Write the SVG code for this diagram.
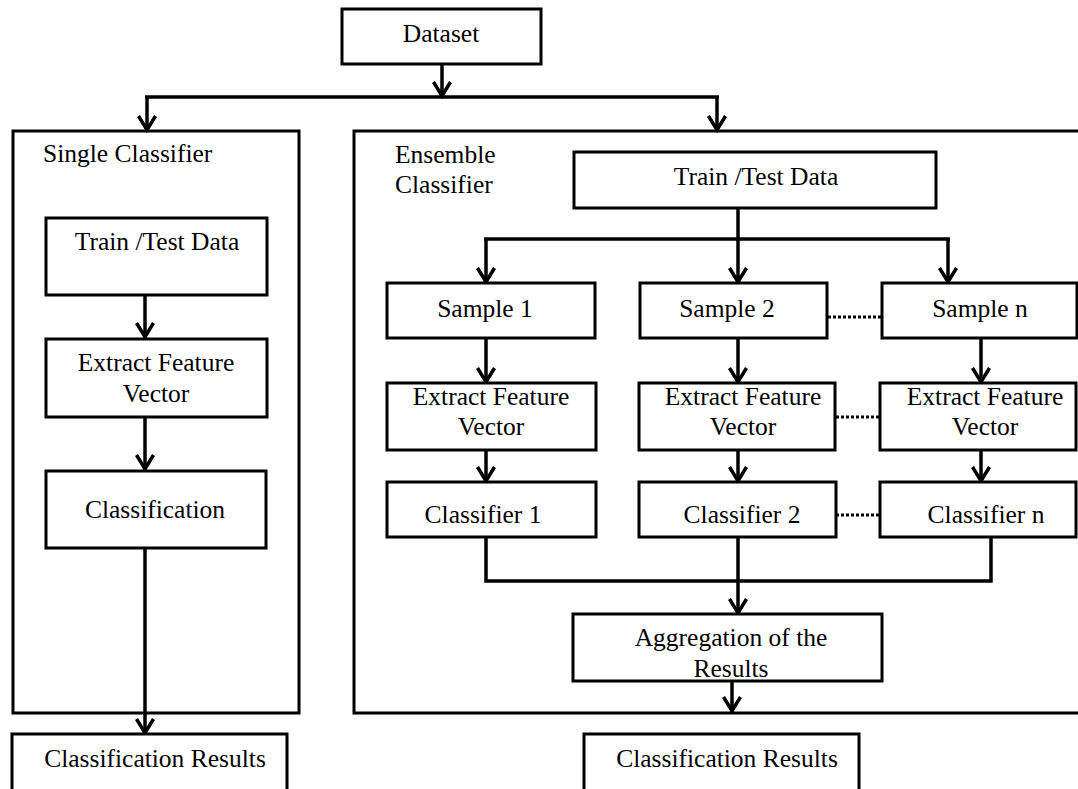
<svg xmlns="http://www.w3.org/2000/svg" width="1078" height="789" viewBox="0 0 1078 789">
  <style>
    .box { fill: #ffffff; stroke: #000000; stroke-width: 3; stroke-linejoin: miter; }
    .frame { fill: none; stroke: #000000; stroke-width: 3; }
    .wire { fill: none; stroke: #000000; stroke-width: 3.5; }
    .arrow { fill: none; stroke: #000000; stroke-width: 3.5; marker-end: url(#head); }
    .dots { fill: none; stroke: #000000; stroke-width: 3; stroke-dasharray: 3 2; }
    text { font-family: "Liberation Serif", "Times New Roman", serif; font-size: 25.5px; fill: #000000; }
    .c { text-anchor: middle; }
  </style>
  <defs>
    <marker id="head" markerUnits="userSpaceOnUse" viewBox="-18 -12 22 24" markerWidth="22" markerHeight="24" refX="0" refY="0" orient="auto">
      <path d="M-15,-8.5 L-1,0 L-15,8.5" fill="none" stroke="#000000" stroke-width="3.5"/>
    </marker>
  </defs>

  <!-- outer containers -->
  <g id="single-classifier">
    <rect class="frame" x="13" y="131" width="286" height="582"/>
    <text x="43" y="162">Single Classifier</text>
  </g>
  <g id="ensemble-classifier">
    <rect class="frame" x="354" y="131" width="760" height="582"/>
    <text x="395" y="163">Ensemble</text>
    <text x="395" y="193">Classifier</text>
  </g>

  <!-- connectors -->
  <g id="connectors">
    <line class="arrow" x1="442" y1="64" x2="442" y2="97"/>
    <line class="wire" x1="145" y1="97" x2="719" y2="97"/>
    <line class="arrow" x1="147" y1="97" x2="147" y2="131"/>
    <line class="arrow" x1="717" y1="97" x2="717" y2="131"/>

    <!-- single path -->
    <line class="arrow" x1="145" y1="295" x2="145" y2="338"/>
    <line class="arrow" x1="145" y1="417" x2="145" y2="470"/>
    <line class="arrow" x1="145" y1="548" x2="145" y2="734"/>

    <!-- ensemble fan-out -->
    <line class="wire" x1="738" y1="208" x2="738" y2="239"/>
    <line class="wire" x1="484" y1="239" x2="950" y2="239"/>
    <line class="arrow" x1="486" y1="239" x2="486" y2="283"/>
    <line class="arrow" x1="738" y1="239" x2="738" y2="283"/>
    <line class="arrow" x1="948" y1="239" x2="948" y2="283"/>

    <line class="arrow" x1="486" y1="338" x2="486" y2="383"/>
    <line class="arrow" x1="738" y1="338" x2="738" y2="383"/>
    <line class="arrow" x1="981" y1="338" x2="981" y2="383"/>

    <line class="arrow" x1="486" y1="450" x2="486" y2="482"/>
    <line class="arrow" x1="738" y1="450" x2="738" y2="482"/>
    <line class="arrow" x1="981" y1="450" x2="981" y2="482"/>

    <!-- fan-in -->
    <path class="wire" d="M486,537 V581 H991 V537"/>
    <line class="arrow" x1="738" y1="537" x2="738" y2="614"/>
    <line class="arrow" x1="732" y1="681" x2="732" y2="712"/>

    <!-- elided members -->
    <line class="dots" x1="828" y1="317" x2="881" y2="317"/>
    <line class="dots" x1="836" y1="417" x2="879" y2="417"/>
    <line class="dots" x1="836" y1="515" x2="879" y2="515"/>
  </g>

  <g id="dataset">
    <rect class="box" x="342" y="9" width="199" height="55"/>
    <text class="c" x="441" y="42">Dataset</text>
  </g>

  <!-- single classifier column -->
  <g id="s-train">
    <rect class="box" x="46" y="218" width="221" height="77"/>
    <text class="c" x="157" y="250">Train /Test Data</text>
  </g>
  <g id="s-extract">
    <rect class="box" x="46" y="339" width="221" height="78"/>
    <text class="c" x="156" y="371">Extract Feature</text>
    <text class="c" x="156" y="402">Vector</text>
  </g>
  <g id="s-classification">
    <rect class="box" x="46" y="471" width="220" height="77"/>
    <text class="c" x="155" y="518">Classification</text>
  </g>
  <g id="s-results">
    <rect class="box" x="12" y="734" width="275" height="70"/>
    <text class="c" x="155" y="767">Classification Results</text>
  </g>

  <!-- ensemble column -->
  <g id="e-train">
    <rect class="box" x="574" y="152" width="362" height="56"/>
    <text class="c" x="756" y="185">Train /Test Data</text>
  </g>
  <g id="sample-1">
    <rect class="box" x="387" y="283" width="208" height="55"/>
    <text class="c" x="485" y="317">Sample 1</text>
  </g>
  <g id="sample-2">
    <rect class="box" x="640" y="283" width="187" height="55"/>
    <text class="c" x="727" y="317">Sample 2</text>
  </g>
  <g id="sample-n">
    <rect class="box" x="882" y="283" width="195" height="55"/>
    <text class="c" x="980" y="317">Sample n</text>
  </g>
  <g id="extract-1">
    <rect class="box" x="387" y="383" width="209" height="67"/>
    <text class="c" x="491" y="405">Extract Feature</text>
    <text class="c" x="491" y="435">Vector</text>
  </g>
  <g id="extract-2">
    <rect class="box" x="639" y="383" width="196" height="67"/>
    <text class="c" x="743" y="405">Extract Feature</text>
    <text class="c" x="743" y="435">Vector</text>
  </g>
  <g id="extract-n">
    <rect class="box" x="880" y="383" width="196" height="67"/>
    <text class="c" x="985" y="405">Extract Feature</text>
    <text class="c" x="985" y="435">Vector</text>
  </g>
  <g id="classifier-1">
    <rect class="box" x="387" y="482" width="209" height="55"/>
    <text class="c" x="483" y="523">Classifier 1</text>
  </g>
  <g id="classifier-2">
    <rect class="box" x="639" y="482" width="197" height="55"/>
    <text class="c" x="742" y="523">Classifier 2</text>
  </g>
  <g id="classifier-n">
    <rect class="box" x="880" y="482" width="196" height="55"/>
    <text class="c" x="986" y="523">Classifier n</text>
  </g>
  <g id="aggregation">
    <rect class="box" x="573" y="614" width="309" height="67"/>
    <text class="c" x="731" y="646">Aggregation of the</text>
    <text class="c" x="731" y="677">Results</text>
  </g>
  <g id="e-results">
    <rect class="box" x="584" y="734" width="275" height="70"/>
    <text class="c" x="727" y="767">Classification Results</text>
  </g>
</svg>
